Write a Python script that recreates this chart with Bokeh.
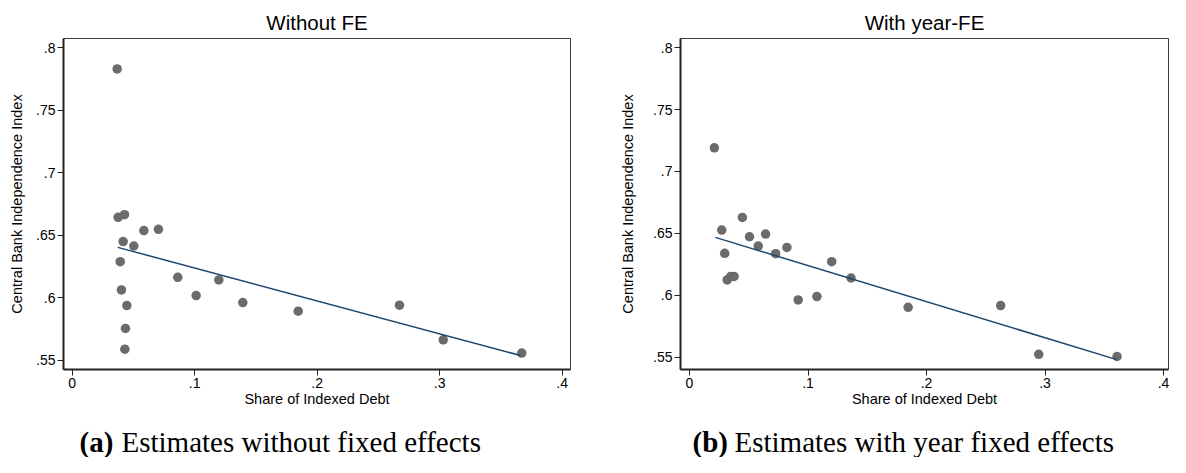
from bokeh.plotting import figure
from bokeh.layouts import column, row
from bokeh.models import Range1d, FixedTicker
from bokeh.core.properties import value
from bokeh.embed import file_html
from bokeh.resources import INLINE

# ---------------- data ----------------
titles = ["Without FE", "With year-FE"]
x_label = "Share of Indexed Debt"
y_label = "Central Bank Independence Index"

x_ticks = [0, 0.1, 0.2, 0.3, 0.4]
x_tick_labels = ["0", ".1", ".2", ".3", ".4"]
y_ticks = [0.55, 0.6, 0.65, 0.7, 0.75, 0.8]
y_tick_labels = [".55", ".6", ".65", ".7", ".75", ".8"]

# panel (a): without fixed effects
a_share = [0.0367, 0.0375, 0.0427, 0.0416, 0.0503, 0.0585, 0.0704, 0.0392, 0.0402, 0.0446,
           0.0435, 0.0430, 0.0862, 0.1012, 0.1197, 0.1393, 0.1845, 0.2672, 0.3029, 0.3670]
a_cbi = [0.7830, 0.6644, 0.6665, 0.6450, 0.6415, 0.6538, 0.6548, 0.6290, 0.6064, 0.5939,
         0.5756, 0.5590, 0.6165, 0.6019, 0.6144, 0.5963, 0.5894, 0.5942, 0.5665, 0.5559]
a_fit_share = [0.0372, 0.3660]
a_fit_cbi = [0.6404, 0.5540]

# panel (b): with year fixed effects
b_share = [0.0210, 0.0272, 0.0446, 0.0506, 0.0580, 0.0642, 0.0727, 0.0822, 0.0297, 0.0318,
           0.0348, 0.0376, 0.0917, 0.1075, 0.1200, 0.1363, 0.1845, 0.2626, 0.2947, 0.3608]
b_cbi = [0.7191, 0.6527, 0.6629, 0.6473, 0.6398, 0.6495, 0.6336, 0.6387, 0.6339, 0.6124,
         0.6153, 0.6153, 0.5963, 0.5990, 0.6272, 0.6140, 0.5903, 0.5917, 0.5524, 0.5506]
b_fit_share = [0.0218, 0.3606]
b_fit_cbi = [0.6468, 0.5481]

caption_tags = ["(a)", "(b)"]
caption_texts = ["Estimates without fixed effects", "Estimates with year fixed effects"]

# ---------------- styling ----------------
SANS = "Liberation Sans"
SERIF = "Liberation Serif"
AXIS_COLOR = "#222222"
DOT_COLOR = "#6b6b6b"
FIT_COLOR = "#1a476f"


def panel(title, xs, ys, fx, fy, width, bl, br, xr, yr, ylab_standoff):
    p = figure(width=width, height=410, x_range=Range1d(*xr), y_range=Range1d(*yr),
               output_backend="svg", toolbar_location=None, title=title,
               min_border_left=bl, min_border_right=br, min_border_top=38,
               min_border_bottom=41)
    p.background_fill_color = "white"
    p.border_fill_color = "white"
    p.outline_line_color = "#3a3a3a"
    p.outline_line_width = 1
    p.grid.visible = False

    p.title.align = "center"
    p.title.text_font = SANS
    p.title.text_font_size = "20.5px"
    p.title.text_font_style = "normal"
    p.title.text_color = "black"
    p.title.standoff = 10

    for ax in (p.xaxis[0], p.yaxis[0]):
        ax.axis_line_color = AXIS_COLOR
        ax.axis_line_width = 2
        ax.major_tick_line_color = AXIS_COLOR
        ax.major_tick_line_width = 1
        ax.major_tick_out = 6
        ax.major_tick_in = 0
        ax.minor_tick_line_color = None
        ax.major_label_text_font = SANS
        ax.major_label_text_font_size = "14px"
        ax.major_label_text_color = "black"
        ax.major_label_standoff = 2
        ax.axis_label_text_font = SANS
        ax.axis_label_text_font_size = "14.5px"
        ax.axis_label_text_font_style = "normal"
        ax.axis_label_text_color = "black"

    p.xaxis.ticker = FixedTicker(ticks=x_ticks)
    p.xaxis.major_label_overrides = dict(zip(x_ticks, x_tick_labels))
    p.yaxis.ticker = FixedTicker(ticks=y_ticks)
    p.yaxis.major_label_overrides = dict(zip(y_ticks, y_tick_labels))
    p.xaxis.axis_label = x_label
    p.yaxis.axis_label = y_label
    p.xaxis.axis_label_standoff = 0
    p.yaxis.axis_label_standoff = ylab_standoff

    p.scatter(xs, ys, size=9.5, fill_color=DOT_COLOR, line_color=None)
    p.line(fx, fy, line_color=FIT_COLOR, line_width=1.5)
    return p


left = panel(titles[0], a_share, a_cbi, a_fit_share, a_fit_cbi,
             615, 63, 45, (-0.0071, 0.4068), (0.5428, 0.8073), 8)
right = panel(titles[1], b_share, b_cbi, b_fit_share, b_fit_cbi,
              555, 65, 2, (-0.0076, 0.4042), (0.5401, 0.8074), 14)

cap = figure(width=1170, height=47, x_range=Range1d(0, 1170), y_range=Range1d(47, 0),
             output_backend="svg", toolbar_location=None,
             min_border_left=0, min_border_right=0, min_border_top=0, min_border_bottom=0)
cap.axis.visible = False
cap.grid.visible = False
cap.outline_line_color = None
cap.background_fill_color = "white"
cap.border_fill_color = "white"

cap_x = [79, 692]
cap_y = [31, 31]
cap.text(x=cap_x, y=cap_y, text=caption_tags, text_font=value(SERIF), text_font_size="29px",
         text_font_style="bold", text_baseline="middle", text_align="left", text_color="black")
cap.text(x=cap_x, y=cap_y, text=caption_texts, x_offset=42, text_font=value(SERIF),
         text_font_size="29px", text_font_style="normal", text_baseline="middle",
         text_align="left", text_color="black")

layout = column(row(left, right), cap)

open("out.html", "w").write(file_html(layout, INLINE))
